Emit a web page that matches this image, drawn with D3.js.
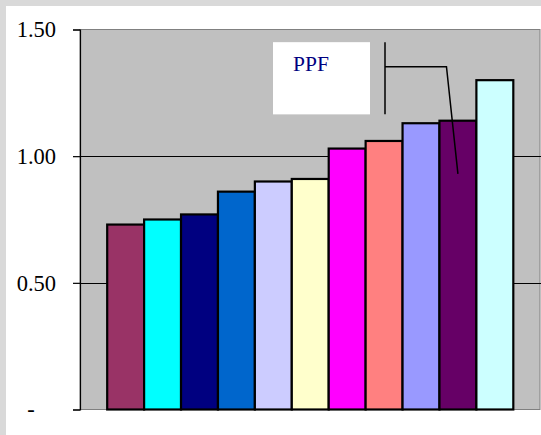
<!DOCTYPE html>
<html>
<head>
<meta charset="utf-8">
<script src="https://cdn.jsdelivr.net/npm/d3@7"></script>
<style>
  html, body { margin: 0; padding: 0; background: #d9d9d9; }
  svg { display: block; }
  .serif { font-family: "Liberation Serif", "Times New Roman", serif; }
</style>
</head>
<body>
<script>
// Series, one bar each, in ascending order of value
const seriesNames = ["S1", "S2", "S3", "S4", "S5", "S6", "S7", "S8", "S9", "S10", "S11"];
const seriesValues = [0.73, 0.75, 0.77, 0.86, 0.90, 0.91, 1.03, 1.06, 1.13, 1.14, 1.30];
const seriesColors = ["#993366", "#00FFFF", "#000080", "#0066CC", "#CCCCFF", "#FFFFCC",
                      "#FF00FF", "#FF8080", "#9999FF", "#660066", "#CCFFFF"];
const tickValues = [0, 0.5, 1.0, 1.5];
const tickLabels = ["-", "0.50", "1.00", "1.50"];
const calloutText = "PPF";
const calloutSeries = "S10";

const W = 541, H = 435;
const svg = d3.select("body").append("svg").attr("width", W).attr("height", H);

// chart area
svg.append("rect").attr("x", 6).attr("y", 6).attr("width", W - 6).attr("height", H - 6)
  .attr("fill", "#ffffff");

const plot = { left: 80, right: 541, top: 29.5, bottom: 409.5 };

const x = d3.scaleBand().domain(seriesNames)
  .range([plot.left - 0.5, plot.right])
  .paddingInner(0).paddingOuter(0.75);
const y = d3.scaleLinear().domain([0, 1.5]).range([plot.bottom, plot.top]);

// plot area
svg.append("rect")
  .attr("x", plot.left).attr("y", plot.top)
  .attr("width", plot.right - plot.left - 1).attr("height", plot.bottom - plot.top)
  .attr("fill", "#c0c0c0").attr("stroke", "#808080").attr("stroke-width", 1);

// gridlines
svg.append("g").selectAll("line")
  .data(tickValues.filter(v => v > 0 && v < 1.5))
  .join("line")
  .attr("x1", plot.left).attr("x2", plot.right)
  .attr("y1", d => Math.round(y(d)) + 0.5).attr("y2", d => Math.round(y(d)) + 0.5)
  .attr("stroke", "#000").attr("stroke-width", 1);

// bars
svg.append("g").selectAll("rect")
  .data(seriesNames.map((n, i) => ({ name: n, value: seriesValues[i], color: seriesColors[i] })))
  .join("rect")
  .attr("x", d => x(d.name))
  .attr("y", d => y(d.value))
  .attr("width", x.bandwidth())
  .attr("height", d => y(0) - y(d.value))
  .attr("fill", d => d.color)
  .attr("stroke", "#000").attr("stroke-width", 2.2);

// value axis
const axis = d3.axisLeft(y)
  .tickValues(tickValues)
  .tickSize(7)
  .tickFormat((d, i) => tickLabels[i]);
const gAxis = svg.append("g").attr("transform", `translate(${plot.left},0)`).call(axis);
gAxis.attr("font-family", null).attr("font-size", null);
gAxis.select(".domain").attr("stroke", "#000").attr("stroke-width", 1.2);
gAxis.selectAll(".tick line").attr("stroke", "#000").attr("stroke-width", 1.2);
gAxis.selectAll(".tick text")
  .attr("class", "serif")
  .style("font-size", "22.5px")
  .attr("fill", "#000")
  .attr("x", d => d === 0 ? -49 : -24)
  .attr("dy", "0.32em")
  .attr("text-anchor", d => d === 0 ? "middle" : "end");

// callout label box with leader line
const box = { x0: 273, x1: 370, v0: 1.45, v1: 1.165 };
svg.append("rect")
  .attr("x", box.x0).attr("y", y(box.v0))
  .attr("width", box.x1 - box.x0).attr("height", y(box.v1) - y(box.v0))
  .attr("fill", "#ffffff");
svg.append("text")
  .attr("class", "serif")
  .attr("x", box.x0 + 20).attr("y", y(box.v0) + 29)
  .style("font-size", "21.5px")
  .attr("fill", "#000080")
  .text(calloutText);

const leadX = box.x1 + 15;
const bendX = x(calloutSeries) + 7;
const tipX = x(calloutSeries) + x.bandwidth() / 2;
svg.append("line")
  .attr("x1", leadX).attr("x2", leadX)
  .attr("y1", y(box.v0)).attr("y2", y(box.v1))
  .attr("stroke", "#000").attr("stroke-width", 1.5);
svg.append("path")
  .attr("d", d3.line()([[leadX, y(1.353)], [bendX, y(1.353)], [tipX, y(0.93)]]))
  .attr("fill", "none").attr("stroke", "#000").attr("stroke-width", 1.5);
</script>
</body>
</html>
